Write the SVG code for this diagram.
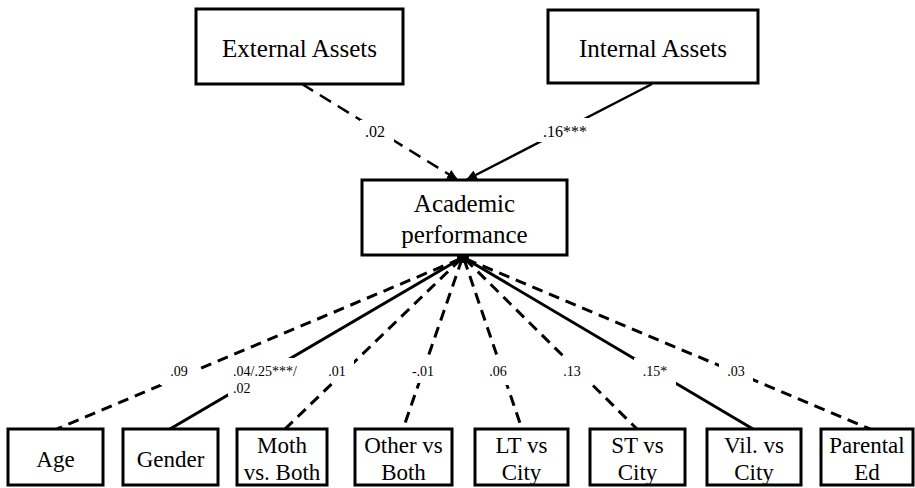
<svg xmlns="http://www.w3.org/2000/svg" width="915" height="488" viewBox="0 0 915 488">
<style>
.box{fill:#fff;stroke:#000;stroke-width:3}
.t{font-family:"Liberation Serif","Times New Roman",serif;fill:#000;text-anchor:middle}
.big{font-size:25px}
.mid{font-size:23px}
.lbl{font-family:"Liberation Serif","Times New Roman",serif;fill:#000;font-size:14px}
.lt{font-size:16px}
.c{fill:none;stroke:#000;stroke-width:2.5}
.cb{fill:none;stroke:#000;stroke-width:3}
.d1{stroke-dasharray:13,8}
.d2{stroke-dasharray:11,7}
.bg{fill:#fff}
</style>
<defs>
<marker id="ah" markerUnits="userSpaceOnUse" markerWidth="12" markerHeight="10" refX="11" refY="5" orient="auto">
<path d="M0,0 L11,5 L0,10 Z" fill="#000"/>
</marker>
</defs>
<rect width="915" height="488" fill="#fff"/>
<g id="connectors">
<line class="c d1" x1="302" y1="84" x2="458" y2="180" marker-end="url(#ah)"/>
<line class="c" x1="652" y1="84" x2="466" y2="180" marker-end="url(#ah)"/>
<rect class="bg" x="360" y="120" width="34" height="26"/>
<rect class="bg" x="538" y="118" width="52" height="24"/>
<text class="lbl lt" x="375" y="137" text-anchor="middle">.02</text>
<text class="lbl lt" x="543" y="137">.16***</text>
<line class="cb d2" x1="460" y1="259" x2="57" y2="429"/>
<line class="cb" x1="460" y1="259" x2="170" y2="429"/>
<line class="cb d2" x1="461" y1="259" x2="285" y2="429"/>
<line class="cb d2" x1="462" y1="259" x2="403" y2="429"/>
<line class="cb d2" x1="464" y1="259" x2="522" y2="429"/>
<line class="cb d2" x1="465" y1="259" x2="637" y2="429"/>
<line class="cb" x1="466" y1="259" x2="753" y2="429"/>
<line class="cb d2" x1="466" y1="259" x2="870" y2="429"/>
<circle cx="463" cy="257" r="6" fill="#000"/>
<rect class="bg" x="160" y="358" width="38" height="27"/>
<rect class="bg" x="228" y="358" width="76" height="38"/>
<rect class="bg" x="320" y="358" width="34" height="25"/>
<rect class="bg" x="404" y="358" width="38" height="25"/>
<rect class="bg" x="481" y="358" width="34" height="27"/>
<rect class="bg" x="555" y="358" width="34" height="27"/>
<rect class="bg" x="634" y="358" width="42" height="27"/>
<rect class="bg" x="719" y="358" width="34" height="27"/>
<text class="lbl" x="179" y="376" text-anchor="middle">.09</text>
<text class="lbl" x="233" y="376">.04/.25***/</text>
<text class="lbl" x="233" y="393">.02</text>
<text class="lbl" x="337" y="376" text-anchor="middle">.01</text>
<text class="lbl" x="423" y="376" text-anchor="middle">-.01</text>
<text class="lbl" x="498" y="376" text-anchor="middle">.06</text>
<text class="lbl" x="572" y="376" text-anchor="middle">.13</text>
<text class="lbl" x="655" y="376" text-anchor="middle">.15*</text>
<text class="lbl" x="736" y="376" text-anchor="middle">.03</text>
</g>
<g id="external">
<rect class="box" x="196" y="9" width="207" height="75"/>
<text class="t big" x="299.5" y="57">External Assets</text>
</g>
<g id="internal">
<rect class="box" x="548" y="10" width="210" height="73"/>
<text class="t big" x="653" y="57">Internal Assets</text>
</g>
<g id="academic">
<rect class="box" x="362" y="180" width="205" height="75"/>
<text class="t big" x="464.5" y="212">Academic</text>
<text class="t big" x="464.5" y="243">performance</text>
</g>
<g id="age">
<rect class="box" x="8" y="429" width="95" height="56"/>
<text class="t mid" x="55.5" y="467">Age</text>
</g>
<g id="gender">
<rect class="box" x="123" y="429" width="95" height="56"/>
<text class="t mid" x="170.5" y="467">Gender</text>
</g>
<g id="moth">
<rect class="box" x="237" y="429" width="90" height="56"/>
<text class="t mid" x="282" y="453">Moth</text>
<text class="t mid" x="282" y="480">vs. Both</text>
</g>
<g id="other">
<rect class="box" x="355" y="429" width="97" height="56"/>
<text class="t mid" x="403.5" y="453">Other vs</text>
<text class="t mid" x="403.5" y="480">Both</text>
</g>
<g id="lt">
<rect class="box" x="475" y="429" width="93" height="56"/>
<text class="t mid" x="521.5" y="453">LT vs</text>
<text class="t mid" x="521.5" y="480">City</text>
</g>
<g id="st">
<rect class="box" x="590" y="429" width="95" height="56"/>
<text class="t mid" x="637.5" y="453">ST vs</text>
<text class="t mid" x="637.5" y="480">City</text>
</g>
<g id="vil">
<rect class="box" x="707" y="429" width="94" height="56"/>
<text class="t mid" x="754" y="453">Vil. vs</text>
<text class="t mid" x="754" y="480">City</text>
</g>
<g id="parental">
<rect class="box" x="821" y="429" width="92" height="56"/>
<text class="t mid" x="867" y="453">Parental</text>
<text class="t mid" x="867" y="480">Ed</text>
</g>
</svg>
